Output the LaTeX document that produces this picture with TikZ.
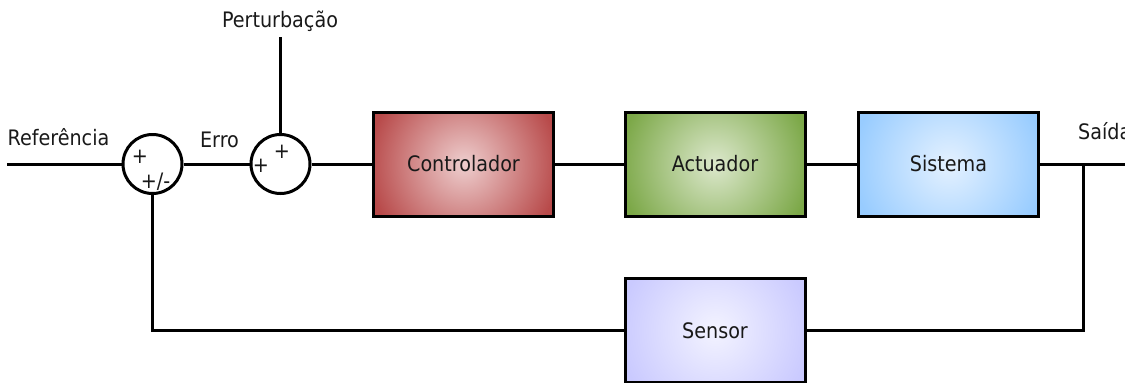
\documentclass[tikz,border=0pt]{standalone}
\usepackage{fontspec}
\setmainfont{DejaVu Sans Condensed}
\definecolor{ctrlout}{RGB}{184,74,74}
\definecolor{ctrlin}{RGB}{238,206,206}
\definecolor{actout}{RGB}{124,168,72}
\definecolor{actin}{RGB}{220,232,204}
\definecolor{sysout}{RGB}{152,204,255}
\definecolor{sysin}{RGB}{228,241,255}
\definecolor{senout}{RGB}{202,202,255}
\definecolor{senin}{RGB}{243,243,255}
\definecolor{inkgray}{RGB}{25,25,25}
\tikzset{
  labelfont/.style={font=\fontsize{21.3}{25}\selectfont, text=inkgray},
  block/.style 2 args={draw=black, line width=3pt, minimum width=180pt, minimum height=104pt,
    inner sep=0pt, labelfont,
    path picture={\shade[inner color=#1, outer color=#2]
      (path picture bounding box.center) circle (96pt);}},
  sumnode/.style={circle, draw=black, line width=3pt, minimum size=59pt, inner sep=0pt, fill=white},
  sign/.style={labelfont, inner sep=0pt},
  wire/.style={draw=black, line width=3pt},
  caption/.style={labelfont, inner sep=0pt, anchor=base}
}
\begin{document}
\begin{tikzpicture}[x=1pt, y=-1pt]
  \useasboundingbox (0,0) rectangle (1125,383);
  \clip (0,0) rectangle (1125,383);

  % summing junctions
  \node[sumnode] (s1) at (152.5,164) {};
  \node[sumnode] (s2) at (280.5,164) {};

  % signs on the junctions
  \node[sign] (p1) at (140,157) {+};
  \node[sign] (p2) at (155.5,182) {+/-};
  \node[sign] (p3) at (282,151.5) {+};
  \node[sign] (p4) at (261,166) {+};

  % forward path blocks (outer colour fills everything beyond the shaded disc)
  \node[block={ctrlin}{ctrlout}, fill=ctrlout] (ctrl) at (463.5,164) {Controlador};
  \node[block={actin}{actout}, fill=actout] (act) at (715,164) {Actuador};
  \node[block={sysin}{sysout}, fill=sysout] (sys) at (948.5,164) {Sistema};

  % feedback block
  \node[block={senin}{senout}, fill=senout] (sens) at (715,330.5) {Sensor};

  % signal labels
  \node[caption] (lref) at (58.5,145) {Referência};
  \node[caption] (lerr) at (219.5,147) {Erro};
  \node[caption] (ldist) at (280,27) {Perturbação};
  \node[caption, anchor=base west] (lout) at (1078,139) {Saída};

  % free wire ends
  \coordinate (in) at (7,164);
  \coordinate (dist) at (280.5,37);
  \coordinate (tap) at (1083,164);
  \coordinate (out) at (1130,164);

  % connections
  \draw[wire] (in) -- (s1.west);
  \draw[wire] (s1.east) -- (s2.west);
  \draw[wire] (dist) -- (s2.north);
  \draw[wire] (s2.east) -- (ctrl.west);
  \draw[wire] (ctrl.east) -- (act.west);
  \draw[wire] (act.east) -- (sys.west);
  \draw[wire] (sys.east) -- (out);
  \draw[wire] (tap) |- (sens.east);
  \draw[wire] (sens.west) -| (s1.south);
\end{tikzpicture}
\end{document}
